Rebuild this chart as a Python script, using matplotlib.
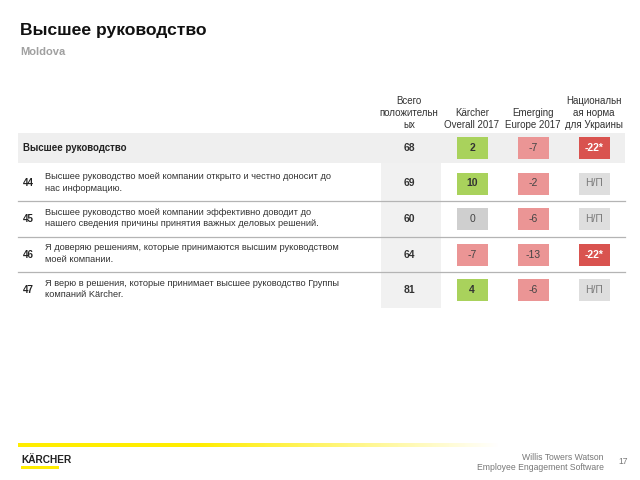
import numpy as np
import matplotlib
matplotlib.use("Agg")
import matplotlib.pyplot as plt
from matplotlib.patches import Rectangle

plt.rcParams['font.family'] = ['Liberation Sans', 'DejaVu Sans']

# data
col_headers = ["Всего\nположительн\nых", "Kärcher\nOverall 2017", "Emerging\nEurope 2017", "Национальн\nая норма\nдля Украины"]
group_label = "Высшее руководство"
question_ids = ["44", "45", "46", "47"]
questions = [
    "Высшее руководство моей компании открыто и честно доносит до\nнас информацию.",
    "Высшее руководство моей компании эффективно доводит до\nнашего сведения причины принятия важных деловых решений.",
    "Я доверяю решениям, которые принимаются высшим руководством\nмоей компании.",
    "Я верю в решения, которые принимает высшее руководство Группы\nкомпаний Kärcher.",
]
totals = [68, 69, 60, 64, 81]
karcher = ["2", "10", "0", "-7", "4"]
emerging = ["-7", "-2", "-6", "-13", "-6"]
national = ["-22*", "Н/П", "Н/П", "-22*", "Н/П"]


def cell_style(v):
    if v == "Н/П":
        return "#dedede", "#7a7a7a"
    if v.endswith("*"):
        return "#d9534f", "white"
    n = int(v)
    if n > 0:
        return "#a9d25c", "#333333"
    if n == 0:
        return "#cfcfcf", "#444444"
    return "#eb9595", "#444444"


fig = plt.figure(figsize=(6.4, 4.8), dpi=100)
ax = fig.add_axes([0, 0, 1, 1])
ax.set_xlim(0, 640)
ax.set_ylim(480, 0)
ax.axis("off")

# title
ax.text(20, 31, "Высшее руководство", fontsize=12.6, fontweight="bold", va="center", color="#111111")
ax.text(20, 52, "Moldova", fontsize=8, fontweight="bold", va="center", color="#a0a0a0")

col_x = [409, 472, 533, 594]
row0_y = 148
row_h = 35.5
cell_w, cell_h = 31, 22

# column headers
for x, h in zip(col_x, col_headers):
    ax.text(x, 130, h, fontsize=7, ha="center", va="bottom", color="#333333", linespacing=1.25)

# group row band
ax.add_patch(Rectangle((18, row0_y - 15), 607, 30, color="#efefef", lw=0))
ax.text(23, row0_y, group_label, fontsize=7, fontweight="bold", va="center", color="#222222")

# total column background for question rows
n = len(questions)
ax.add_patch(Rectangle((381, row0_y + 15), 60, n * row_h + 3, color="#f1f1f1", lw=0, zorder=0))

ys = [row0_y + i * row_h for i in range(n + 1)]

for i, y in enumerate(ys):
    if i > 0:
        ax.text(23, y, question_ids[i - 1], fontsize=7, fontweight="bold", va="center", color="#222222")
        ax.text(45, y - 1, questions[i - 1], fontsize=6.7, va="center", color="#333333", linespacing=1.35)
        if i < n:
            ax.plot([18, 625], [y + row_h / 2, y + row_h / 2], color="#b4b4b4", lw=0.9)
    ax.text(col_x[0], y, str(totals[i]), fontsize=7.5, fontweight="bold", ha="center", va="center", color="#333333")
    for x, v in zip(col_x[1:], [karcher[i], emerging[i], national[i]]):
        fc, tc = cell_style(v)
        ax.add_patch(Rectangle((x - cell_w / 2, y - cell_h / 2), cell_w, cell_h, color=fc, lw=0))
        bold = v in ("2", "10", "4") or v.endswith("*")
        ax.text(x, y, v, fontsize=7.5, ha="center", va="center", color=tc,
                fontweight="bold" if bold else "normal")

# footer line with fading yellow
grad = np.linspace(1, 0, 256).reshape(1, -1)
yellow = np.zeros((1, 256, 4))
yellow[..., 0] = 1.0
yellow[..., 1] = 0.93
yellow[..., 2] = 0.0
yellow[..., 3] = np.clip(grad * 1.6, 0, 1)
ax.imshow(yellow, extent=(18, 500, 447, 443), aspect="auto", zorder=1)
ax.set_xlim(0, 640)
ax.set_ylim(480, 0)

ax.text(21, 460, "KÄRCHER", fontsize=7.3, fontweight="bold", va="center", color="#222222")
ax.add_patch(Rectangle((21, 466), 38, 3, color="#ffed00", lw=0))
ax.text(604, 457, "Willis Towers Watson", fontsize=6.2, ha="right", va="center", color="#777777")
ax.text(604, 468, "Employee Engagement Software", fontsize=6.2, ha="right", va="center", color="#777777")
ax.text(623, 462, "17", fontsize=6.2, ha="center", va="center", color="#777777")

fig.savefig("out.png", dpi=100)
